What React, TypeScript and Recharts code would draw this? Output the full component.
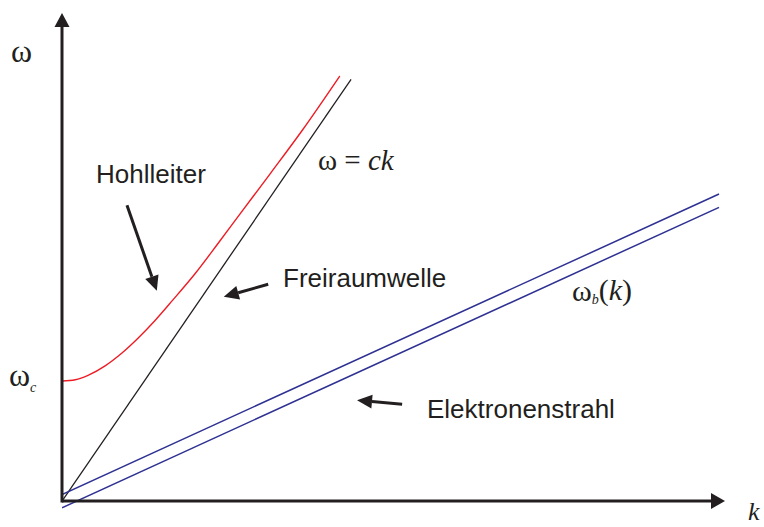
import { LineChart, Line, XAxis, YAxis, ReferenceLine } from 'recharts';

// wave number k and angular frequency ω, same units on both axes
const freeK = [0, 4.36];
const freeW = [0, 6.36];

const guideK = [0, 0.2, 0.4, 0.65, 0.9, 1.15, 1.4, 1.67, 2.0, 2.35, 2.7, 3.15, 3.63, 4.19];
const guideW = [1.81, 1.83, 1.9, 2.04, 2.23, 2.46, 2.72, 3.03, 3.42, 3.88, 4.35, 4.95, 5.6, 6.41];

const beamUpperK = [0, 9.91];
const beamUpperW = [0.1, 4.63];
const beamLowerK = [0, 9.91];
const beamLowerW = [-0.1, 4.43];

// pointer arrows: [tail, tip] as [k, ω]
const pointerArrows: [number, number][][] = [
    [[0.98, 4.46], [1.43, 3.17]],
    [[3.11, 3.27], [2.44, 3.08]],
    [[5.13, 1.46], [4.45, 1.52]],
];

const K_MAX = 10;
const W_MAX = 7.36;

const zip = (ks: number[], ws: number[]) => ks.map((k, i) => ({ k, w: ws[i] }));

const INK = '#231f20';

function arrowShape(width: number, headLen: number, headHalf: number) {
    return (props: any) => {
        const { x1, y1, x2, y2 } = props;
        const dx = x2 - x1;
        const dy = y2 - y1;
        const len = Math.hypot(dx, dy) || 1;
        const ux = dx / len;
        const uy = dy / len;
        const bx = x2 - ux * headLen;
        const by = y2 - uy * headLen;
        const px = -uy * headHalf;
        const py = ux * headHalf;
        return (
            <g>
                <line x1={x1} y1={y1} x2={bx} y2={by} stroke={INK} strokeWidth={width} />
                <polygon
                    points={`${x2},${y2} ${bx + px},${by + py} ${bx - px},${by - py}`}
                    fill={INK}
                />
            </g>
        );
    };
}

const serif = '"Liberation Serif", "DejaVu Serif", serif';
const sans = '"Liberation Sans", Arial, sans-serif';

export default function App() {
    return (
        <div style={{ position: 'absolute', left: 0, top: 0, background: '#fff' }}>
            <LineChart width={764} height={527} margin={{ top: 13, right: 39, bottom: 6, left: 62 }}>
                <XAxis type="number" dataKey="k" domain={[0, K_MAX]} hide allowDataOverflow />
                <YAxis type="number" dataKey="w" domain={[-0.3, W_MAX]} hide allowDataOverflow />

                <Line data={zip(freeK, freeW)} dataKey="w" stroke={INK} strokeWidth={1.3} dot={false} isAnimationActive={false} />
                <Line data={zip(guideK, guideW)} dataKey="w" type="monotone" stroke="#ed1c24" strokeWidth={1.4} dot={false} isAnimationActive={false} />
                <Line data={zip(beamUpperK, beamUpperW)} dataKey="w" stroke="#2e3192" strokeWidth={1.5} dot={false} isAnimationActive={false} />
                <Line data={zip(beamLowerK, beamLowerW)} dataKey="w" stroke="#2e3192" strokeWidth={1.5} dot={false} isAnimationActive={false} />

                {/* axes with arrowheads */}
                <ReferenceLine segment={[{ x: 0, y: 0 }, { x: K_MAX, y: 0 }]} shape={arrowShape(3, 14, 8)} ifOverflow="visible" />
                <ReferenceLine segment={[{ x: 0, y: -0.02 }, { x: 0, y: W_MAX }]} shape={arrowShape(3, 14, 7.5)} ifOverflow="visible" />

                {pointerArrows.map(([tail, tip], i) => (
                    <ReferenceLine
                        key={i}
                        segment={[{ x: tail[0], y: tail[1] }, { x: tip[0], y: tip[1] }]}
                        shape={arrowShape(3, 15, 7)}
                        ifOverflow="visible"
                    />
                ))}

                <text x={11} y={62} fontFamily={serif} fontSize={32} fill={INK}>ω</text>
                <text x={9} y={386} fontFamily={serif} fontSize={32} fill={INK}>
                    ω<tspan fontSize={14} fontStyle="italic" dy={6}>c</tspan>
                </text>
                <text x={318} y={170} fontFamily={serif} fontSize={29} fill={INK}>
                    ω = <tspan fontStyle="italic">ck</tspan>
                </text>
                <text x={572} y={301} fontFamily={serif} fontSize={30} fill={INK}>
                    ω<tspan fontSize={14} fontStyle="italic" dy={3}>b</tspan>
                    <tspan dy={-4}>(</tspan><tspan fontStyle="italic">k</tspan>)
                </text>
                <text x={748} y={520} fontFamily={serif} fontSize={26} fontStyle="italic" fill={INK}>k</text>

                <text x={96} y={183} fontFamily={sans} fontSize={26} fill={INK}>Hohlleiter</text>
                <text x={283} y={287} fontFamily={sans} fontSize={26} fill={INK}>Freiraumwelle</text>
                <text x={427} y={418} fontFamily={sans} fontSize={26} fill={INK}>Elektronenstrahl</text>
            </LineChart>
        </div>
    );
}
